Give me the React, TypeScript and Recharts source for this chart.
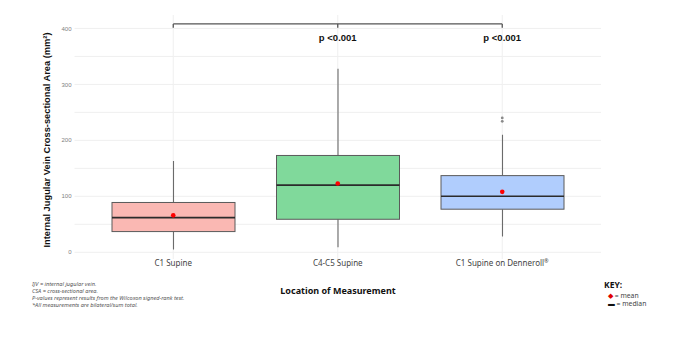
import {
  ComposedChart,
  Bar,
  Scatter,
  XAxis,
  YAxis,
  CartesianGrid,
  ReferenceLine,
  ReferenceDot,
} from 'recharts';

const CATEGORIES = ['C1 Supine', 'C4-C5 Supine', 'C1 Supine on Denneroll®'];
const WHISKER_LOW = [5, 9, 28];
const Q1 = [37, 59, 77];
const MEDIAN = [62, 120, 100];
const Q3 = [89, 173, 137];
const WHISKER_HIGH = [163, 328, 210];
const MEAN = [66, 123, 108];
const OUTLIERS = [[], [], [240, 234]];
const P_LABELS = ['', 'p <0.001', 'p <0.001'];
const BOX_FILLS = ['#fab8b3', '#80d99b', '#b0cdfd'];
const Y_TICKS = [0, 50, 100, 150, 200, 250, 300, 350, 400];
const BRACKET_Y = 408;
const BRACKET_TICK_Y = 401;
const P_LABEL_Y = 384;

const NOTES = [
  'IJV = internal jugular vein.',
  'CSA = cross-sectional area.',
  'P-values represent results from the Wilcoxon signed-rank test.',
  '*All measurements are bilateral/sum total.',
];

const data = CATEGORIES.map((name, i) => ({
  name,
  range: [WHISKER_LOW[i], WHISKER_HIGH[i]],
  low: WHISKER_LOW[i],
  high: WHISKER_HIGH[i],
  q1: Q1[i],
  median: MEDIAN[i],
  q3: Q3[i],
  mean: MEAN[i],
  out1: OUTLIERS[i][0],
  out2: OUTLIERS[i][1],
  fill: BOX_FILLS[i],
}));

function BoxShape(props: any) {
  const { x, y, width, height, payload } = props;
  if (!payload || !Number.isFinite(y)) return null;
  const k = height / (payload.high - payload.low);
  const py = (v: number) => y + (payload.high - v) * k;
  const cx = x + width / 2;
  return (
    <g>
      <line x1={cx} x2={cx} y1={py(payload.high)} y2={py(payload.q3)} stroke="#6b6b6b" strokeWidth={1.1} />
      <line x1={cx} x2={cx} y1={py(payload.q1)} y2={py(payload.low)} stroke="#6b6b6b" strokeWidth={1.1} />
      <rect
        x={x}
        y={py(payload.q3)}
        width={width}
        height={py(payload.q1) - py(payload.q3)}
        fill={payload.fill}
        stroke="#5a5a5a"
        strokeWidth={1}
      />
      <line x1={x} x2={x + width} y1={py(payload.median)} y2={py(payload.median)} stroke="#2b2b2b" strokeWidth={1.6} />
    </g>
  );
}

function MeanDot(props: any) {
  const { cx, cy } = props;
  if (!Number.isFinite(cx) || !Number.isFinite(cy)) return null;
  return <circle cx={cx} cy={cy} r={2.3} fill="#ff0000" />;
}

function OutlierDot(props: any) {
  const { cx, cy, payload } = props;
  if (!Number.isFinite(cy) || payload == null) return null;
  return <circle cx={cx} cy={cy} r={1.4} fill="#8a8a8a" />;
}

function CategoryTick(props: any) {
  const { x, y, payload } = props;
  const label: string = payload.value;
  const reg = label.endsWith('®');
  return (
    <text x={x} y={y + 6.5} textAnchor="middle" fontSize={8} fill="#444" fontFamily="'Noto Sans', sans-serif">
      {reg ? label.slice(0, -1) : label}
      {reg && (
        <tspan fontSize={5.5} dy={-3}>
          ®
        </tspan>
      )}
    </text>
  );
}

function YTitle(props: any) {
  const { viewBox } = props;
  const x = viewBox.x - 5;
  const y = viewBox.y + viewBox.height / 2 + 3;
  return (
    <text
      x={x}
      y={y}
      transform={`rotate(-90, ${x}, ${y})`}
      textAnchor="middle"
      fontSize={9.3}
      fontWeight={700}
      fill="#111"
      fontFamily="'Liberation Sans', Arial, sans-serif"
    >
      Internal Jugular Vein Cross-sectional Area (mm²)
    </text>
  );
}

export default function App() {
  return (
    <div
      style={{
        position: 'absolute',
        left: 0,
        top: 0,
        width: 679,
        height: 337,
        background: '#fff',
        fontFamily: "'Noto Sans', sans-serif",
      }}
    >
      <ComposedChart
        width={679}
        height={337}
        data={data}
        margin={{ top: 15, right: 78, bottom: 48, left: 54.5 }}
      >
        <CartesianGrid
          stroke="#efefef"
          strokeWidth={1}
          horizontalValues={Y_TICKS}
          verticalValues={CATEGORIES}
        />
        <XAxis
          dataKey="name"
          type="category"
          padding={{ left: 16.5, right: 16.5 }}
          axisLine={false}
          tickLine={false}
          tickSize={0}
          tickMargin={0}
          height={30}
          tick={<CategoryTick />}
          interval={0}
        />
        <YAxis
          type="number"
          domain={[-12, 424]}
          ticks={Y_TICKS}
          allowDataOverflow
          width={20}
          axisLine={false}
          tickLine={false}
          tickSize={0}
          tickMargin={3}
          tickFormatter={(v: number) => (v % 100 === 0 ? String(v) : '')}
          tick={{ fontSize: 6, fill: '#808080', fontFamily: "'Liberation Sans', Arial, sans-serif" }}
          label={<YTitle />}
        />
        <Bar dataKey="range" barSize={123} shape={<BoxShape />} isAnimationActive={false} />
        <Scatter dataKey="out1" shape={<OutlierDot />} isAnimationActive={false} />
        <Scatter dataKey="out2" shape={<OutlierDot />} isAnimationActive={false} />
        <Scatter dataKey="mean" shape={<MeanDot />} isAnimationActive={false} />
        <ReferenceLine
          segment={[
            { x: CATEGORIES[0], y: BRACKET_Y },
            { x: CATEGORIES[2], y: BRACKET_Y },
          ]}
          stroke="#555"
          strokeWidth={1.3}
        />
        {CATEGORIES.map((c) => (
          <ReferenceLine
            key={'tick-' + c}
            segment={[
              { x: c, y: BRACKET_Y },
              { x: c, y: BRACKET_TICK_Y },
            ]}
            stroke="#555"
            strokeWidth={1.3}
          />
        ))}
        {CATEGORIES.map((c, i) =>
          P_LABELS[i] ? (
            <ReferenceDot
              key={'p-' + c}
              x={c}
              y={P_LABEL_Y}
              r={1}
              fill="none"
              stroke="none"
              label={{
                value: P_LABELS[i],
                position: 'center',
                fontSize: 9.5,
                fontWeight: 700,
                fill: '#111',
                fontFamily: "'Liberation Sans', Arial, sans-serif",
              }}
            />
          ) : null
        )}
      </ComposedChart>

      <div
        style={{
          position: 'absolute',
          left: 250,
          top: 285,
          width: 176,
          textAlign: 'center',
          fontSize: 9,
          fontWeight: 700,
          color: '#111',
          lineHeight: '12px',
        }}
      >
        Location of Measurement
      </div>

      <div
        style={{
          position: 'absolute',
          left: 32,
          top: 280.5,
          fontSize: 5.6,
          fontStyle: 'italic',
          color: '#555',
          lineHeight: '7.3px',
          whiteSpace: 'nowrap',
        }}
      >
        {NOTES.map((n) => (
          <div key={n}>{n}</div>
        ))}
      </div>

      <div
        style={{
          position: 'absolute',
          left: 604,
          top: 279,
          fontSize: 8.5,
          fontWeight: 700,
          color: '#111',
          lineHeight: '11px',
        }}
      >
        KEY:
      </div>
      <div
        style={{
          position: 'absolute',
          left: 608,
          top: 292,
          fontSize: 6.8,
          color: '#444',
          lineHeight: '7.5px',
          whiteSpace: 'nowrap',
        }}
      >
        <div>
          <span style={{ color: '#e00000', fontSize: 7 }}>◆</span> = mean
        </div>
        <div>
          <span style={{ color: '#111', fontWeight: 700 }}>▬</span> = median
        </div>
      </div>
    </div>
  );
}
